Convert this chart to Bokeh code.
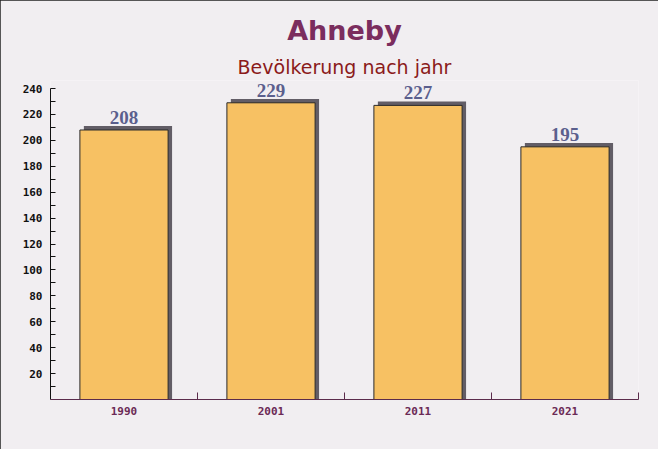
from bokeh.plotting import figure
from bokeh.models import FixedTicker, LabelSet, ColumnDataSource, Title, Range1d
from bokeh.transform import dodge
from bokeh.embed import file_html
from bokeh.resources import INLINE

years = ["1990", "2001", "2011", "2021"]
population = [208, 229, 227, 195]
y_ticks = [20, 40, 60, 80, 100, 120, 140, 160, 180, 200, 220, 240]
y_minor = [10, 30, 50, 70, 90, 110, 130, 150, 170, 190, 210, 230]
y_axis_max = 240

BG = "#f1eef1"
positions = [i + 0.5 for i in range(len(years))]
bounds = [i + 1 for i in range(len(years))]
src = ColumnDataSource(dict(x=positions, top=population,
                            label=[str(v) for v in population]))

p = figure(width=658, height=449, output_backend="svg", toolbar_location=None,
           x_range=Range1d(0, len(years)), y_range=Range1d(0, 246.2),
           min_border_left=50, min_border_right=20, min_border_top=80,
           min_border_bottom=50, background_fill_color=BG, border_fill_color=BG)
p.styles = {"outline": "1px solid #222", "outline-offset": "-1px"}

p.title.text = "Ahneby"
p.title.align = "center"
p.title.text_font = "DejaVu Sans"
p.title.text_font_size = "27px"
p.title.text_font_style = "bold"
p.title.text_color = "#7b2d5e"
p.title.standoff = 9
p.add_layout(Title(text="Bevölkerung nach jahr", align="center",
                   text_font="DejaVu Sans", text_font_size="19px",
                   text_font_style="normal", text_color="#8b1a1a",
                   standoff=6), "above")

# shadow
p.vbar(x=dodge("x", 0.027), top=dodge("top", 3.0), bottom=0, width=0.6,
       fill_color="#625d66", line_color=None, source=src)
p.vbar(x="x", top="top", bottom=0, width=0.6, fill_color="#f7c163",
       line_color="#2a2a2a", line_width=1, source=src)

p.add_layout(LabelSet(x="x", y="top", text="label", source=src,
                      text_align="center", text_baseline="bottom", y_offset=6,
                      text_font="Liberation Serif",
                      text_font_size="19px",
                      text_font_style="bold", text_color="#5b5f8d"))

p.grid.visible = False
p.outline_line_color = None

xa = p.xaxis[0]
xa.ticker = FixedTicker(ticks=positions, minor_ticks=bounds)
xa.major_label_overrides = {pos: yr for pos, yr in zip(positions, years)}
xa.major_tick_in = 0
xa.major_tick_out = 0
xa.minor_tick_in = 7
xa.minor_tick_out = 0
xa.axis_line_color = "#5b2b4b"
xa.minor_tick_line_color = "#5b2b4b"
xa.major_label_text_color = "#6b2a56"
xa.major_label_text_font = "DejaVu Sans Mono"
xa.major_label_text_font_style = "bold"
xa.major_label_text_font_size = "11px"
xa.major_label_standoff = 7

ya = p.yaxis[0]
ya.ticker = FixedTicker(ticks=y_ticks, minor_ticks=y_minor)
ya.bounds = (0, y_axis_max)
ya.major_tick_in = 5
ya.major_tick_out = 0
ya.minor_tick_in = 5
ya.minor_tick_out = 0
ya.axis_line_color = "#111111"
ya.major_tick_line_color = "#111111"
ya.minor_tick_line_color = "#111111"
ya.major_label_text_color = "#111111"
ya.major_label_text_font = "DejaVu Sans Mono"
ya.major_label_text_font_style = "bold"
ya.major_label_text_font_size = "11px"
ya.major_label_standoff = 8

open("out.html", "w").write(file_html(p, INLINE))
